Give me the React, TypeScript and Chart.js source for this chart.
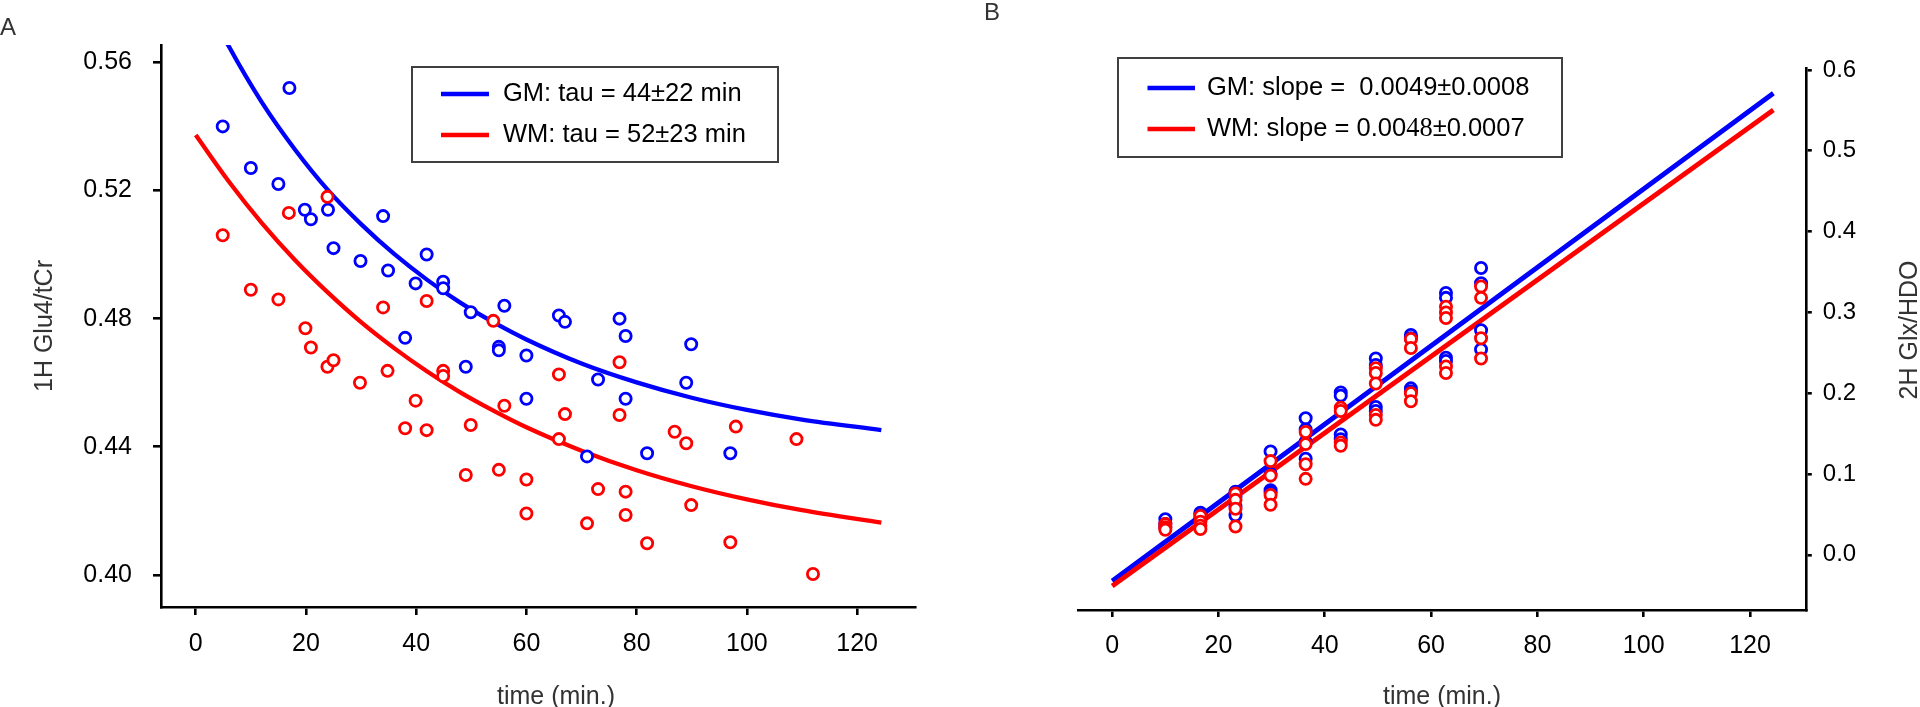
import React, { useEffect, useRef } from "react";
import { Chart, registerables } from "chart.js";

Chart.register(...registerables);

const BLUE = "#0000ff";
const RED = "#ff0000";
const FONT = '"Liberation Sans", Arial, Helvetica, sans-serif';
const SERIF = '"Liberation Serif", "DejaVu Serif", serif';

// ---------- Panel A : 1H Glu4/tCr vs time ----------
const gmTimeA = [4.9, 10, 15, 17, 19.8, 20.9, 24, 25, 29.9, 34, 34.9, 38, 39.9, 41.9, 44.9, 44.9, 49, 49.9, 55, 55, 56, 60, 60, 65.9, 67, 71, 73, 76.9, 78, 78, 81.9, 89, 89.9, 97];
const gmValA = [0.540, 0.527, 0.522, 0.552, 0.514, 0.511, 0.514, 0.502, 0.498, 0.512, 0.495, 0.474, 0.491, 0.500, 0.4915, 0.4895, 0.465, 0.482, 0.4712, 0.4701, 0.484, 0.4685, 0.455, 0.481, 0.479, 0.437, 0.461, 0.480, 0.4746, 0.455, 0.438, 0.460, 0.472, 0.438];

const wmTimeA = [4.9, 10, 15, 16.9, 19.9, 20.9, 23.9, 23.9, 25, 29.8, 34, 34.8, 38, 39.9, 41.9, 41.9, 44.9, 44.9, 49, 49.9, 54, 55, 56, 60, 60, 65.9, 65.9, 67, 71, 73, 76.9, 76.9, 78, 78, 81.9, 86.9, 89, 89.9, 97, 98, 109, 112];
const wmValA = [0.506, 0.489, 0.486, 0.513, 0.477, 0.471, 0.518, 0.465, 0.467, 0.460, 0.4835, 0.4637, 0.4458, 0.4544, 0.4855, 0.4452, 0.4637, 0.4621, 0.4312, 0.4468, 0.4793, 0.4328, 0.4528, 0.4298, 0.4192, 0.4626, 0.4424, 0.4502, 0.4161, 0.4268, 0.4664, 0.4499, 0.4260, 0.4187, 0.4099, 0.4447, 0.4411, 0.4218, 0.4102, 0.4463, 0.4424, 0.4003];

// fitted curves
const curveTimeA = [0, 6, 12, 18, 24, 30, 36, 42, 48, 54, 60, 70, 80, 90, 100, 110, 124.4];
const gmCurveA = [0.585, 0.5650, 0.5475, 0.5328, 0.5201, 0.5095, 0.5002, 0.4921, 0.4850, 0.4789, 0.4735, 0.4660, 0.4601, 0.4553, 0.4515, 0.4485, 0.4452];
const wmCurveA = [0.5373, 0.5228, 0.5098, 0.4983, 0.4881, 0.4789, 0.4708, 0.4635, 0.4570, 0.4513, 0.4461, 0.4388, 0.4327, 0.4277, 0.4236, 0.4202, 0.4163];

const xTicks = [0, 20, 40, 60, 80, 100, 120];
const yTicksA = [0.40, 0.44, 0.48, 0.52, 0.56];

const legendA = ["GM: tau = 44\u00b122 min", "WM: tau = 52\u00b123 min"];

// ---------- Panel B : 2H Glx/HDO vs time ----------
const timesB = [10, 16.6, 23.2, 29.8, 36.4, 43, 49.6, 56.2, 62.8, 69.4];
const gmValsB = [
  [0.044, 0.038, 0.034],
  [0.052, 0.049, 0.044],
  [0.078, 0.072, 0.060, 0.049],
  [0.128, 0.100, 0.080, 0.077],
  [0.169, 0.155, 0.140, 0.119],
  [0.201, 0.197, 0.149, 0.143],
  [0.243, 0.235, 0.183, 0.178],
  [0.272, 0.268, 0.206, 0.202],
  [0.324, 0.318, 0.244, 0.240],
  [0.355, 0.336, 0.278, 0.254],
];
const wmValsB = [
  [0.038, 0.034, 0.031],
  [0.048, 0.041, 0.036, 0.032],
  [0.076, 0.068, 0.057, 0.035],
  [0.116, 0.098, 0.074, 0.062],
  [0.152, 0.137, 0.112, 0.094],
  [0.182, 0.178, 0.139, 0.135],
  [0.231, 0.225, 0.212, 0.173, 0.167],
  [0.267, 0.256, 0.200, 0.190],
  [0.307, 0.300, 0.293, 0.233, 0.225],
  [0.332, 0.318, 0.268, 0.243],
];
const lineTimeB = [0, 124.4];
const gmLineB = [-0.0324, 0.5712];
const wmLineB = [-0.0386, 0.5505];
const yTicksB = [0.0, 0.1, 0.2, 0.3, 0.4, 0.5, 0.6];

const zip = (xs: number[], ys: number[]) => xs.map((x, i) => ({ x, y: ys[i] }));

function axisCommon(tickVals: number[], fmt: (v: number) => string, size: number, pad: number, tickLen: number, fit: (s: any) => void) {
  return {
    type: "linear" as const,
    afterBuildTicks: (s: any) => {
      s.ticks = tickVals.map((v) => ({ value: v }));
    },
    afterFit: fit,
    ticks: {
      font: { family: FONT, size },
      color: "#000",
      padding: pad,
      autoSkip: false,
      maxRotation: 0,
      minRotation: 0,
      callback: (v: any) => fmt(Number(v)),
    },
    grid: {
      display: true,
      drawOnChartArea: false,
      drawTicks: true,
      tickLength: tickLen,
      tickWidth: 2.6,
      lineWidth: 2.6,
      tickColor: "#000",
      color: "#000",
    },
    border: { display: true, width: 2.6, color: "#000" },
  };
}

function pointSet(label: string, data: any[], color: string, order: number) {
  return {
    label,
    data,
    order,
    showLine: false,
    pointRadius: 5.6,
    pointBorderWidth: 2.8,
    pointBorderColor: color,
    pointBackgroundColor: "#fff",
    borderColor: color,
    backgroundColor: "#fff",
  };
}

function lineSet(label: string, data: any[], color: string, order: number, width: number) {
  return {
    label,
    data,
    order,
    showLine: true,
    pointRadius: 0,
    borderColor: color,
    backgroundColor: color,
    borderWidth: width,
    cubicInterpolationMode: "monotone" as const,
  };
}

type Seg = { t: string; f: string };

function drawLegend(
  ctx: CanvasRenderingContext2D,
  box: { x: number; y: number; w: number; h: number },
  line: { x0: number; x1: number; tx: number },
  rows: { y: number; color: string; segs: Seg[] }[]
) {
  ctx.fillStyle = "#fff";
  ctx.fillRect(box.x, box.y, box.w, box.h);
  ctx.strokeStyle = "#404040";
  ctx.lineWidth = 2;
  ctx.strokeRect(box.x, box.y, box.w, box.h);
  rows.forEach((r) => {
    ctx.strokeStyle = r.color;
    ctx.lineWidth = 4.5;
    ctx.beginPath();
    ctx.moveTo(line.x0, r.y);
    ctx.lineTo(line.x1, r.y);
    ctx.stroke();
    ctx.fillStyle = "#000";
    ctx.textBaseline = "middle";
    ctx.textAlign = "left";
    let x = line.tx;
    r.segs.forEach((s) => {
      ctx.font = s.f;
      ctx.fillText(s.t, x, r.y);
      x += ctx.measureText(s.t).width;
    });
  });
}

function drawText(ctx: CanvasRenderingContext2D, text: string, x: number, y: number, font: string, color: string, rot = 0, align: CanvasTextAlign = "center", base: CanvasTextBaseline = "middle") {
  ctx.save();
  ctx.translate(x, y);
  if (rot) ctx.rotate(rot);
  ctx.font = font;
  ctx.fillStyle = color;
  ctx.textAlign = align;
  ctx.textBaseline = base;
  ctx.fillText(text, 0, 0);
  ctx.restore();
}

export default function App() {
  const refA = useRef<HTMLCanvasElement | null>(null);
  const refB = useRef<HTMLCanvasElement | null>(null);

  useEffect(() => {
    if (!refA.current || !refB.current) return;
    const titleFont = `25px ${FONT}`;
    const legFont = `25.5px ${FONT}`;

    const decorA = {
      id: "decorA",
      afterDatasetsDraw(chart: any) {
        const ctx = chart.ctx as CanvasRenderingContext2D;
        drawLegend(
          ctx,
          { x: 412, y: 67, w: 366, h: 95 },
          { x0: 441, x1: 489, tx: 503 },
          [
            { y: 94, color: BLUE, segs: [{ t: legendA[0], f: legFont }] },
            { y: 135, color: RED, segs: [{ t: legendA[1], f: legFont }] },
          ]
        );
      },
      afterDraw(chart: any) {
        const ctx = chart.ctx as CanvasRenderingContext2D;
        drawText(ctx, "A", 0, 35, `24px ${FONT}`, "#333", 0, "left", "alphabetic");
        drawText(ctx, "time (min.)", 556, 697, titleFont, "#333");
        drawText(ctx, "1H Glu4/tCr", 45, 326, titleFont, "#333", -Math.PI / 2);
      },
    };

    const decorB = {
      id: "decorB",
      afterDatasetsDraw(chart: any) {
        const ctx = chart.ctx as CanvasRenderingContext2D;
        drawLegend(
          ctx,
          { x: 158, y: 58, w: 444, h: 99 },
          { x0: 187.5, x1: 235, tx: 247 },
          [
            { y: 88, color: BLUE, segs: [{ t: "GM: slope =  0.0049\u00b10.0008", f: legFont }] },
            {
              y: 129,
              color: RED,
              segs: [
                { t: "WM: slope = 0.00", f: legFont },
                { t: "48", f: `26.5px ${SERIF}` },
                { t: "\u00b10.0007", f: legFont },
              ],
            },
          ]
        );
      },
      afterDraw(chart: any) {
        const ctx = chart.ctx as CanvasRenderingContext2D;
        drawText(ctx, "B", 24, 20, `24px ${FONT}`, "#333", 0, "left", "alphabetic");
        drawText(ctx, "time (min.)", 482, 697, titleFont, "#333");
        drawText(ctx, "2H Glx/HDO", 950, 330, titleFont, "#333", -Math.PI / 2);
      },
    };

    const chartA = new Chart(refA.current, {
      type: "scatter",
      data: {
        datasets: [
          pointSet("WM", zip(wmTimeA, wmValA), RED, 0),
          pointSet("GM", zip(gmTimeA, gmValA), BLUE, 1),
          lineSet("WM fit", zip(curveTimeA, wmCurveA), RED, 2, 4.3),
          lineSet("GM fit", zip(curveTimeA, gmCurveA), BLUE, 3, 4.3),
        ] as any,
      },
      options: {
        responsive: false,
        animation: false,
        devicePixelRatio: 1,
        events: [],
        layout: { padding: { left: 0, top: 45, right: 44.5, bottom: 0 } },
        plugins: { legend: { display: false }, tooltip: { enabled: false } },
        scales: {
          x: {
            ...axisCommon(xTicks, (v) => String(v), 25, 14, 8, (s: any) => { s.height = 100; }),
            position: "bottom",
            min: -6.3,
            max: 130.6,
          },
          y: {
            ...axisCommon(yTicksA, (v) => v.toFixed(2), 25, 21, 8, (s: any) => { s.width = 161; }),
            position: "left",
            min: 0.39,
            max: 0.5654,
          },
        } as any,
      },
      plugins: [decorA],
    });

    const gmPtsB = timesB.flatMap((t, i) => gmValsB[i].map((v) => ({ x: t, y: v })));
    const wmPtsB = timesB.flatMap((t, i) => wmValsB[i].map((v) => ({ x: t, y: v })));

    const chartB = new Chart(refB.current, {
      type: "scatter",
      data: {
        datasets: [
          pointSet("WM", wmPtsB, RED, 0),
          pointSet("GM", gmPtsB, BLUE, 1),
          lineSet("WM fit", zip(lineTimeB, wmLineB), RED, 2, 4.8),
          lineSet("GM fit", zip(lineTimeB, gmLineB), BLUE, 3, 4.8),
        ] as any,
      },
      options: {
        responsive: false,
        animation: false,
        devicePixelRatio: 1,
        events: [],
        layout: { padding: { left: 118.7, top: 68.3, right: 0, bottom: 0 } },
        plugins: { legend: { display: false }, tooltip: { enabled: false } },
        scales: {
          x: {
            ...axisCommon(xTicks, (v) => String(v), 25, 14, 7, (s: any) => { s.height = 97; }),
            position: "bottom",
            min: -6.3,
            max: 130.5,
          },
          y: {
            ...axisCommon(yTicksB, (v) => v.toFixed(1), 24, 11, 6, (s: any) => { s.width = 114.2; }),
            position: "right",
            min: -0.0683,
            max: 0.6021,
          },
        } as any,
      },
      plugins: [decorB],
    });

    return () => {
      chartA.destroy();
      chartB.destroy();
    };
  }, []);

  return (
    <div style={{ position: "absolute", left: 0, top: 0, width: 1920, height: 707, background: "#fff", overflow: "hidden" }}>
      <canvas ref={refA} width={960} height={707} style={{ position: "absolute", left: 0, top: 0, width: 960, height: 707 }} />
      <canvas ref={refB} width={960} height={707} style={{ position: "absolute", left: 960, top: 0, width: 960, height: 707 }} />
    </div>
  );
}
